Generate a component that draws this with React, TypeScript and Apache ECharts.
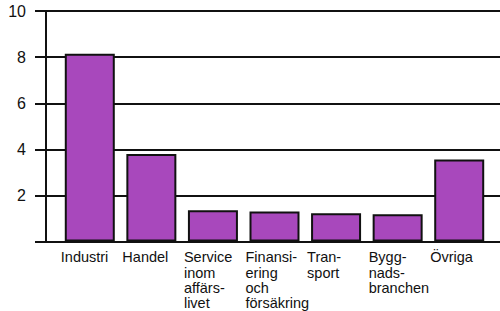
import React, { useEffect, useRef } from "react";
import * as echarts from "echarts";

const categories = [
  "Industri",
  "Handel",
  "Service\ninom\naffärs-\nlivet",
  "Finansi-\nering\noch\nförsäkring",
  "Tran-\nsport",
  "Bygg-\nnads-\nbranchen",
  "Övriga",
];
const values = [8.15, 3.8, 1.36, 1.3, 1.23, 1.19, 3.56];
const yTicks = { min: 0, max: 10, interval: 2 };

const FONT = "'Liberation Sans', Arial, Helvetica, sans-serif";

export default function App() {
  const ref = useRef<HTMLDivElement>(null);
  useEffect(() => {
    if (!ref.current) return;
    const chart = echarts.init(ref.current, null, { renderer: "svg" });
    chart.setOption({
      animation: false,
      backgroundColor: "#ffffff",
      grid: [
        { left: 59, right: 10, top: 11, bottom: 69 },
        { left: 46, right: 0, top: 11, bottom: 69 },
      ],
      xAxis: [
        {
          type: "category",
          gridIndex: 0,
          data: categories,
          axisLine: { show: false },
          axisTick: { show: false },
          axisLabel: {
            interval: 0,
            margin: 8,
            hideOverlap: false,
            formatter: (v: string) =>
              v
                .split("\n")
                .map((l) => `{a|${l}}`)
                .join("\n"),
            rich: {
              a: {
                width: 58,
                align: "left",
                fontSize: 14.5,
                lineHeight: 15.4,
                fontFamily: FONT,
                color: "#111",
              },
            },
          },
        },
        { type: "value", gridIndex: 1, min: 0, max: 1, show: false },
      ],
      yAxis: [
        { type: "value", gridIndex: 0, ...yTicks, show: false },
        {
          type: "value",
          gridIndex: 1,
          ...yTicks,
          axisLine: { show: true, lineStyle: { color: "#111", width: 2 } },
          axisTick: { show: true, length: 11, lineStyle: { color: "#111", width: 2 } },
          splitLine: { show: true, lineStyle: { color: "#111", width: 2 } },
          axisLabel: {
            margin: 20,
            fontSize: 16,
            fontFamily: FONT,
            color: "#111",
            formatter: (v: number) => (v === 0 ? "" : String(v)),
          },
        },
      ],
      series: [
        {
          type: "bar",
          xAxisIndex: 0,
          yAxisIndex: 0,
          data: values,
          barWidth: 50,
          itemStyle: { color: "#a848bc", borderColor: "#111", borderWidth: 2 },
        },
      ],
    });
    return () => chart.dispose();
  }, []);
  return (
    <div
      ref={ref}
      style={{ position: "absolute", left: 0, top: 0, width: 500, height: 311 }}
    />
  );
}
